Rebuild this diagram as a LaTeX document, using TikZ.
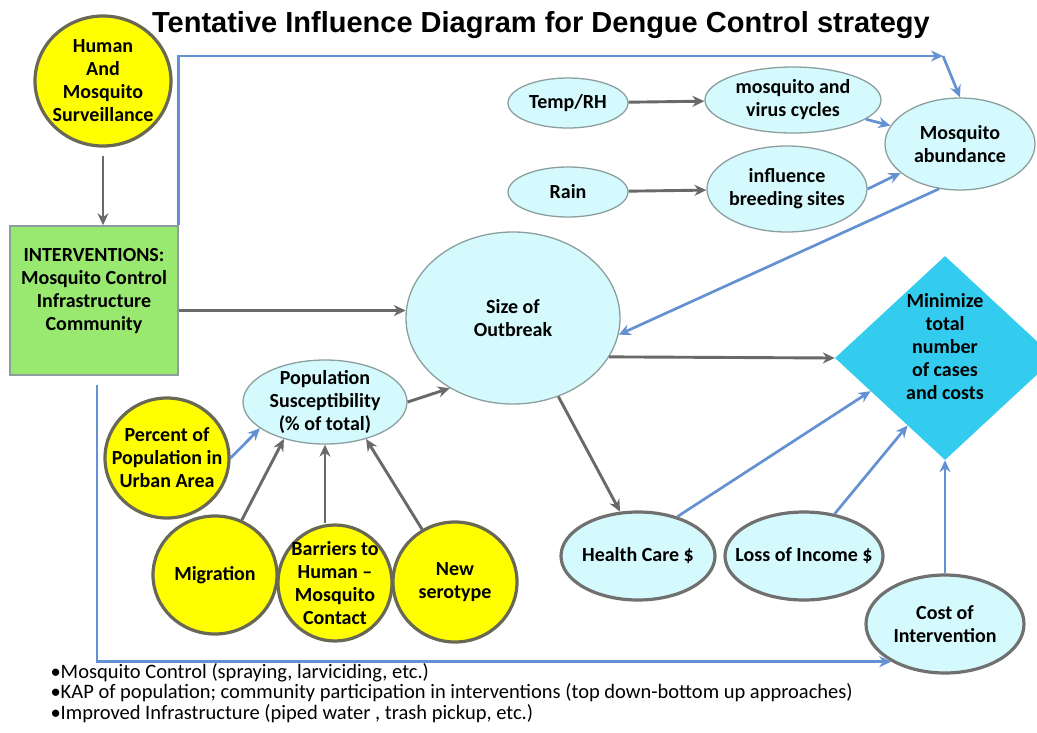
\documentclass[tikz,border=0pt]{standalone}
\usepackage{fontspec}
\setmainfont{Carlito}
\newfontfamily\headfont{Liberation Sans}
\usetikzlibrary{shapes.geometric,arrows.meta}

\newcommand\diagfont{\fontsize{20}{23}\selectfont\bfseries}

\begin{document}
\begin{tikzpicture}[x=1pt, y=-1pt,
    every node/.style={font=\diagfont, align=center},
    paleoval/.style={ellipse, fill=palecyan, draw=ovalrim, line width=1.3pt, inner sep=-20pt},
    costoval/.style={ellipse, fill=palecyan, draw=costrim, line width=3.2pt, inner sep=-20pt},
    factordisc/.style={ellipse, fill=factoryellow, draw=discrim, line width=3.2pt, inner sep=-20pt},
    grayarrow/.style={->, >={Stealth[length=12pt,width=11pt]}, draw=arrowgray, line width=2.9pt},
    bluearrow/.style={->, >={Stealth[length=12pt,width=11pt]}, draw=arrowblue, line width=2.7pt}]
  % Define colors
  \definecolor{palecyan}{RGB}{212,250,253}
  \definecolor{ovalrim}{RGB}{140,158,158}
  \definecolor{costrim}{RGB}{112,112,112}
  \definecolor{factoryellow}{RGB}{255,255,0}
  \definecolor{discrim}{RGB}{104,104,84}
  \definecolor{actiongreen}{RGB}{153,232,112}
  \definecolor{goalblue}{RGB}{51,204,238}
  \definecolor{arrowgray}{RGB}{105,105,105}
  \definecolor{arrowblue}{RGB}{100,145,210}

  \useasboundingbox (0,0) rectangle (1037,732);

  % Title
  \node[font=\headfont\bfseries\fontsize{29}{34}\selectfont] (title) at (541,25)
    {Tentative Influence Diagram for Dengue Control strategy};

  % Surveillance and interventions
  \node[factordisc, minimum width=136pt, minimum height=130pt] (surv) at (103,81)
    {Human\\And\\Mosquito\\Surveillance};
  \node[rectangle, fill=actiongreen, draw=ovalrim, line width=1.5pt, inner sep=0pt,
    minimum width=168pt, minimum height=149pt] (interv) at (94,300.5)
    {INTERVENTIONS:\\Mosquito Control\\Infrastructure\\Community\\\mbox{}};

  % Weather and mosquito nodes
  \node[paleoval, minimum width=120pt, minimum height=50pt] (temp) at (568,103) {Temp/RH};
  \node[paleoval, minimum width=120pt, minimum height=50pt] (rain) at (568,192) {Rain};
  \node[paleoval, minimum width=176pt, minimum height=66pt] (cycles) at (793,100)
    {mosquito and\\virus cycles};
  \node[paleoval, minimum width=160pt, minimum height=86pt] (breeding) at (787,189)
    {influence\\breeding sites};
  \node[paleoval, minimum width=150pt, minimum height=92pt] (abund) at (960,144)
    {Mosquito\\abundance};

  % Outbreak and goal
  \node[paleoval, minimum width=214pt, minimum height=172pt] (outbreak) at (513,318)
    {Size of\\Outbreak};
  \node[diamond, fill=goalblue, inner sep=-10pt, minimum width=220pt, minimum height=204pt]
    (goal) at (945,358) {Minimize\\total\\number\\of cases\\and costs\\\mbox{}};

  % Population factors
  \node[paleoval, minimum width=164pt, minimum height=84pt] (popsusc) at (325,402)
    {Population\\Susceptibility\\(\% of total)};
  \node[factordisc, minimum width=124pt, minimum height=120pt] (urban) at (167,458)
    {Percent of\\Population in\\Urban Area};
  \node[factordisc, minimum width=124pt, minimum height=118pt] (migration) at (215,575)
    {Migration};
  \node[factordisc, minimum width=114pt, minimum height=116pt] (barriers) at (335,583)
    {Barriers to\\Human --\\Mosquito\\Contact};
  \node[factordisc, minimum width=124pt, minimum height=120pt] (serotype) at (455,582)
    {New\\serotype};

  % Costs
  \node[costoval, minimum width=154pt, minimum height=88pt] (health) at (638,556) {Health Care \$};
  \node[costoval, minimum width=158pt, minimum height=88pt] (loss) at (804,556) {Loss of Income \$};
  \node[costoval, minimum width=158pt, minimum height=98pt] (costint) at (945,624)
    {Cost of\\Intervention};

  % Free ends of the blue intervention lines
  \coordinate (topbend) at (943,56);
  \coordinate (ctrlfoot) at (97,385);

  % Gray influences
  \draw[grayarrow, shorten <=8pt] (surv) -- (surv |- interv.north);
  \draw[grayarrow] (interv.east |- outbreak.176) -- (outbreak.176);
  \draw[grayarrow] (temp) -- (cycles);
  \draw[grayarrow] (rain) -- (breeding);
  \draw[grayarrow] (outbreak.-22) -- (goal.west);
  \draw[grayarrow] (outbreak.-60) -- (health.112);
  \draw[grayarrow] (popsusc.east) -- (outbreak.228);
  \draw[grayarrow] (migration.64) -- (popsusc.222);
  \draw[grayarrow] (popsusc.south |- barriers.north) -- (popsusc.south);
  \draw[grayarrow] (serotype.122) -- (popsusc.-42);

  % Blue influences
  \draw[bluearrow] (interv.north east) |- (topbend);
  \draw[bluearrow] (topbend) -- (abund.north);
  \draw[bluearrow] (ctrlfoot) |- (costint.215);
  \draw[bluearrow] (cycles) -- (abund);
  \draw[bluearrow] (breeding.east) -- (abund);
  \draw[bluearrow] (abund.-115) -- (outbreak.-9);
  \draw[bluearrow] (urban.east) -- (popsusc.202);
  \draw[bluearrow] (health.45) -- (goal.204);
  \draw[bluearrow] (loss.54) -- (goal.241);
  \draw[bluearrow] (costint.north) -- (goal.south);

  % Notes on interventions
  \node[anchor=west, align=left, font=\fontsize{20.5}{20.5}\selectfont] (notes) at (47,693)
    {•Mosquito Control (spraying, larviciding, etc.)\\
     •KAP of population; community participation in interventions (top down-bottom up approaches)\\
     •Improved Infrastructure (piped water , trash pickup, etc.)};
\end{tikzpicture}
\end{document}
